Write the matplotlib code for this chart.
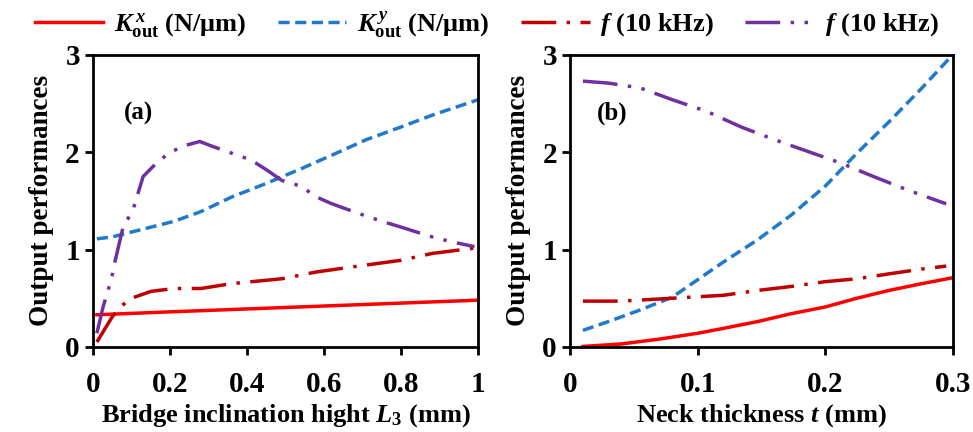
import matplotlib.pyplot as plt
from matplotlib.lines import Line2D

plt.rcParams['font.family'] = 'Liberation Serif'
plt.rcParams['font.weight'] = 'bold'
plt.rcParams['axes.labelweight'] = 'bold'
plt.rcParams['mathtext.fontset'] = 'custom'
plt.rcParams['mathtext.rm'] = 'Liberation Serif:bold'
plt.rcParams['mathtext.it'] = 'Liberation Serif:bold:italic'
plt.rcParams['mathtext.bf'] = 'Liberation Serif:bold'

# ---------------- panel (a): bridge inclination hight L3 ----------------
a_kx_x = [0.01, 0.2, 0.4, 0.6, 0.8, 1.0]
a_kx_y = [0.33, 0.36, 0.39, 0.42, 0.45, 0.48]

a_ky_x = [0.01, 0.05, 0.12, 0.21, 0.28, 0.36, 0.45, 0.54, 0.62, 0.71, 0.80, 0.88, 1.0]
a_ky_y = [1.11, 1.13, 1.20, 1.29, 1.39, 1.54, 1.68, 1.83, 1.97, 2.13, 2.26, 2.38, 2.54]

a_f1_x = [0.01, 0.05, 0.07, 0.10, 0.15, 0.21, 0.28, 0.36, 0.49, 0.58, 0.67, 0.80, 0.88, 1.0]
a_f1_y = [0.05, 0.31, 0.41, 0.50, 0.57, 0.60, 0.60, 0.65, 0.70, 0.77, 0.82, 0.89, 0.96, 1.02]

a_f2_x = [0.01, 0.026, 0.048, 0.056, 0.078, 0.104, 0.13, 0.165, 0.20, 0.24, 0.277,
          0.31, 0.36, 0.41, 0.45, 0.49, 0.54, 0.58, 0.62, 0.69, 0.75, 0.80, 0.88, 0.93, 0.99]
a_f2_y = [0.14, 0.41, 0.70, 0.86, 1.23, 1.41, 1.75, 1.89, 2.00, 2.07, 2.11,
          2.06, 1.99, 1.92, 1.82, 1.71, 1.65, 1.54, 1.47, 1.37, 1.29, 1.23, 1.13, 1.08, 1.03]

# ---------------- panel (b): neck thickness t ----------------
b_kx_x = [0.01, 0.04, 0.07, 0.10, 0.12, 0.147, 0.173, 0.20, 0.225, 0.25, 0.276, 0.30]
b_kx_y = [0.005, 0.03, 0.08, 0.14, 0.19, 0.26, 0.34, 0.41, 0.50, 0.58, 0.65, 0.71]

b_ky_x = [0.01, 0.03, 0.055, 0.08, 0.10, 0.12, 0.147, 0.173, 0.20, 0.225, 0.25, 0.276, 0.30]
b_ky_y = [0.17, 0.26, 0.38, 0.51, 0.69, 0.87, 1.10, 1.35, 1.65, 1.99, 2.31, 2.66, 3.0]

b_f1_x = [0.01, 0.04, 0.08, 0.12, 0.147, 0.173, 0.20, 0.225, 0.25, 0.276, 0.295]
b_f1_y = [0.47, 0.47, 0.50, 0.53, 0.58, 0.62, 0.67, 0.70, 0.75, 0.80, 0.83]

b_f2_x = [0.01, 0.03, 0.055, 0.08, 0.107, 0.134, 0.16, 0.186, 0.212, 0.238, 0.265, 0.295]
b_f2_y = [2.73, 2.71, 2.66, 2.54, 2.42, 2.26, 2.13, 2.01, 1.89, 1.75, 1.61, 1.47]

labels = [r'$K_{\rm out}^{\,x}$ (N/μm)', r'$K_{\rm out}^{\,y}$ (N/μm)',
          r'$f$ (10 kHz)', r'$f$ (10 kHz)']
colors = ['#ff0000', '#1f7acc', '#c00000', '#7030a0']
styles = ['-', (0, (3.2, 1.6)), (0, (10, 3, 1, 3)), (0, (10, 3, 1, 3, 1, 3))]
lw = 2.5

fig = plt.figure(figsize=(9.73, 4.32), dpi=100)
ax1 = fig.add_axes([0.0956, 0.197, 0.396, 0.676])
ax2 = fig.add_axes([0.586, 0.197, 0.393, 0.676])

for ax, data in [(ax1, [(a_kx_x, a_kx_y), (a_ky_x, a_ky_y), (a_f1_x, a_f1_y), (a_f2_x, a_f2_y)]),
                 (ax2, [(b_kx_x, b_kx_y), (b_ky_x, b_ky_y), (b_f1_x, b_f1_y), (b_f2_x, b_f2_y)])]:
    for (xs, ys), c, ls in zip(data, colors, styles):
        ax.plot(xs, ys, color=c, linestyle=ls, linewidth=lw)
    ax.set_ylim(0, 3)
    ax.set_yticks([0, 1, 2, 3])
    ax.set_ylabel('Output performances', fontsize=19.5, labelpad=8)
    for s in ax.spines.values():
        s.set_linewidth(2)
    ax.tick_params(direction='out', width=2, length=6, labelsize=21)
    ax.tick_params(axis='x', pad=11)

ax1.set_xlim(0, 1)
ax1.set_xticks([0, 0.2, 0.4, 0.6, 0.8, 1])
ax1.set_xticklabels(['0', '0.2', '0.4', '0.6', '0.8', '1'])
ax1.set_xlabel(r'Bridge inclination hight $L_3$ (mm)', fontsize=19, labelpad=3)
ax1.text(0.08, 0.8, '(a)', transform=ax1.transAxes, fontsize=18, va='center')

ax2.set_xlim(0, 0.3)
ax2.set_xticks([0, 0.1, 0.2, 0.3])
ax2.set_xticklabels(['0', '0.1', '0.2', '0.3'])
ax2.set_xlabel(r'Neck thickness $t$ (mm)', fontsize=19, labelpad=3)
ax2.text(0.07, 0.8, '(b)', transform=ax2.transAxes, fontsize=18, va='center')

handles = [Line2D([], [], color=c, linestyle=ls, linewidth=lw) for c, ls in zip(colors, styles)]
fig.legend(handles, labels, loc='upper center', bbox_to_anchor=(0.5, 1.035), ncol=4,
           frameon=False, fontsize=19, handlelength=2.6, columnspacing=1.2, handletextpad=0.4)

fig.savefig('out.png', dpi=100)
